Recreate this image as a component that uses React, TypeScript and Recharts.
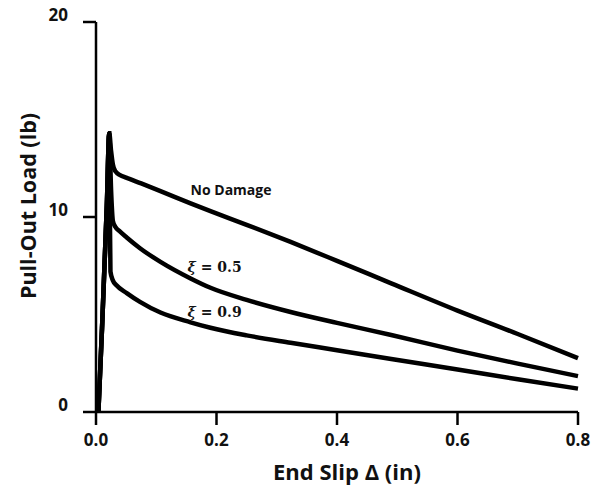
import React from "react";
import {
  LineChart,
  Line,
  XAxis,
  YAxis,
  ReferenceDot,
  Label,
} from "recharts";

// end slip (in) vs pull-out load (lb)
const noDamageSlip = [0.004, 0.01, 0.018, 0.022, 0.025, 0.028, 0.032, 0.04, 0.05, 0.075, 0.107, 0.157, 0.19, 0.25, 0.323, 0.4, 0.49, 0.6, 0.7, 0.8];
const noDamageLoad = [0, 4.3, 10.6, 14.3, 13.4, 12.7, 12.35, 12.15, 12.02, 11.72, 11.33, 10.7, 10.3, 9.6, 8.72, 7.75, 6.6, 5.2, 4.0, 2.76];

const xi05Slip = [0.004, 0.01, 0.018, 0.022, 0.025, 0.028, 0.032, 0.04, 0.051, 0.073, 0.107, 0.157, 0.19, 0.25, 0.323, 0.4, 0.49, 0.6, 0.7, 0.8];
const xi05Load = [0, 4.3, 10.6, 14.3, 11.4, 9.8, 9.5, 9.25, 8.95, 8.4, 7.7, 6.85, 6.37, 5.75, 5.13, 4.57, 3.95, 3.15, 2.48, 1.84];

const xi09Slip = [0.004, 0.01, 0.018, 0.022, 0.023, 0.024, 0.028, 0.034, 0.051, 0.073, 0.107, 0.157, 0.19, 0.25, 0.323, 0.4, 0.49, 0.6, 0.7, 0.8];
const xi09Load = [0, 4.3, 10.6, 14.3, 10.5, 7.2, 6.75, 6.5, 6.1, 5.65, 5.1, 4.6, 4.32, 3.93, 3.55, 3.17, 2.72, 2.18, 1.68, 1.2];

const xTicks = [0, 0.2, 0.4, 0.6, 0.8];
const yTicks = [0, 10, 20];

// curve labels: [slip, load] where the text starts
const curveLabels = [
  { text: "No Damage", at: [0.157, 11.4] },
  { text: "0.5", at: [0.152, 7.45], xi: true },
  { text: "0.9", at: [0.152, 5.15], xi: true },
];

const toPoints = (xs: number[], ys: number[]) => xs.map((x, i) => ({ x, y: ys[i] }));

const FONT = "'Open Sans', sans-serif";
const AXIS = { stroke: "#000", strokeWidth: 2.5 };

function YTick(props: any) {
  const { x, y, payload } = props;
  return (
    <text x={x} y={y - 7} dy="0.36em" textAnchor="end" fontFamily={FONT} fontSize={17} fontWeight={700} fill="#111">
      {payload.value}
    </text>
  );
}

function XTick(props: any) {
  const { x, y, payload } = props;
  return (
    <text x={x} y={y} dy="0.71em" textAnchor="middle" fontFamily={FONT} fontSize={17} fontWeight={700} fill="#111">
      {Number(payload.value).toFixed(1)}
    </text>
  );
}

export default function App() {
  return (
    <div style={{ position: "absolute", left: 0, top: 0, width: 594, height: 485, background: "#fff" }}>
      <LineChart width={594} height={485} margin={{ top: 22, right: 16, bottom: 0, left: 0 }}>
        <XAxis
          xAxisId="main"
          dataKey="x"
          type="number"
          domain={[0, 0.8]}
          ticks={xTicks}
          tick={<XTick />}
          tickSize={13}
          tickMargin={9}
          tickLine={AXIS}
          axisLine={AXIS}
          height={73}
        >
          <Label
            content={() => (
              <text x={347} y={480} textAnchor="middle" fontFamily={FONT} fontSize={22} fontWeight={700} fill="#111">
                End Slip Δ (in)
              </text>
            )}
          />
        </XAxis>
        <XAxis xAxisId="top" orientation="top" type="number" domain={[0, 0.8]} tick={false} tickLine={false} axisLine={AXIS} height={0} />
        <YAxis
          yAxisId="main"
          type="number"
          domain={[0, 20]}
          ticks={yTicks}
          tick={<YTick />}
          tickSize={13}
          tickMargin={15}
          tickLine={AXIS}
          axisLine={AXIS}
          width={96}
        >
          <Label
            content={() => (
              <text
                x={27}
                y={206}
                transform="rotate(-90 27 206)"
                textAnchor="middle"
                dominantBaseline="central"
                fontFamily={FONT}
                fontSize={21.5}
                fontWeight={700}
                fill="#111"
              >
                Pull-Out Load (lb)
              </text>
            )}
          />
        </YAxis>
        <YAxis yAxisId="right" orientation="right" type="number" domain={[0, 20]} tick={false} tickLine={false} axisLine={{ stroke: "#000", strokeWidth: 2 }} width={0} />

        <Line xAxisId="main" yAxisId="main" data={toPoints(noDamageSlip, noDamageLoad)} dataKey="y" type="monotone" stroke="#000" strokeWidth={4.5} dot={false} isAnimationActive={false} />
        <Line xAxisId="main" yAxisId="main" data={toPoints(xi05Slip, xi05Load)} dataKey="y" type="monotone" stroke="#000" strokeWidth={4.5} dot={false} isAnimationActive={false} />
        <Line xAxisId="main" yAxisId="main" data={toPoints(xi09Slip, xi09Load)} dataKey="y" type="monotone" stroke="#000" strokeWidth={4.5} dot={false} isAnimationActive={false} />

        {curveLabels.map((l) => (
          <ReferenceDot
            key={l.text}
            xAxisId="main"
            yAxisId="main"
            x={l.at[0]}
            y={l.at[1]}
            r={1}
            fill="none"
            stroke="none"
            label={(p: any) => {
              const cx = p.viewBox.x + p.viewBox.width / 2;
              const cy = p.viewBox.y + p.viewBox.height / 2;
              return l.xi ? (
                <text x={cx} y={cy} dominantBaseline="central" fontFamily="'DejaVu Serif', serif" fontSize={14} fontWeight={700} fill="#111" xmlSpace="preserve">
                  <tspan fontStyle="italic">ξ</tspan>
                  {` = ${l.text}`}
                </text>
              ) : (
                <text x={cx} y={cy} dominantBaseline="central" fontFamily={FONT} fontSize={14} fontWeight={700} fill="#111">
                  {l.text}
                </text>
              );
            }}
          />
        ))}
      </LineChart>
    </div>
  );
}
